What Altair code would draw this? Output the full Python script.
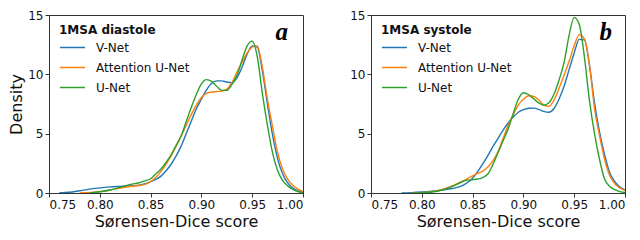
import altair as alt
import pandas as pd

x_grid = [0.76, 0.77, 0.78, 0.79, 0.80, 0.81, 0.82, 0.83, 0.84, 0.845, 0.85, 0.855,
          0.86, 0.865, 0.87, 0.875, 0.88, 0.885, 0.89, 0.895, 0.90, 0.905, 0.91, 0.915,
          0.92, 0.925, 0.93, 0.935, 0.94, 0.945, 0.95, 0.955, 0.96, 0.965, 0.97, 0.975,
          0.98, 0.985, 0.99, 0.995, 1.00]

models = ["V-Net", "Attention U-Net", "U-Net"]
colors = ["#1f77b4", "#ff7f0e", "#2ca02c"]

# 1MSA diastole
dia_vnet = [0.0, 0.06, 0.19, 0.33, 0.43, 0.52, 0.56, 0.60, 0.68, 0.78, 0.95, 1.15,
            1.4, 1.85, 2.4, 3.1, 3.95, 5.0, 6.05, 7.1, 7.9, 8.7, 9.25, 9.45,
            9.45, 9.35, 9.3, 9.7, 10.6, 11.7, 12.4, 12.3, 10.3, 7.5, 4.9, 2.9,
            1.6, 0.85, 0.42, 0.18, 0.07]
dia_att = [None, None, 0.0, 0.04, 0.10, 0.25, 0.42, 0.55, 0.65, 0.75, 0.95, 1.3,
           1.8, 2.4, 3.1, 3.9, 4.8, 5.7, 6.6, 7.4, 8.05, 8.4, 8.5, 8.55,
           8.6, 8.75, 9.3, 10.2, 11.0, 11.8, 12.3, 12.4, 10.6, 7.9, 5.6, 3.4,
           2.0, 1.15, 0.65, 0.32, 0.12]
dia_unet = [None, None, None, 0.0, 0.10, 0.25, 0.48, 0.72, 0.90, 1.05, 1.2, 1.6,
            2.0, 2.55, 3.2, 4.0, 4.8, 6.0, 7.2, 8.3, 9.2, 9.55, 9.4, 9.0,
            8.65, 8.65, 9.15, 9.9, 11.2, 12.4, 12.8, 11.5, 8.4, 5.7, 3.4, 1.9,
            1.05, 0.6, 0.3, 0.12, 0.04]

# 1MSA systole
sys_vnet = [None, None, 0.0, 0.03, 0.08, 0.15, 0.25, 0.38, 0.62, 0.88, 1.25, 1.8,
            2.45, 3.15, 3.9, 4.6, 5.3, 5.9, 6.4, 6.8, 7.02, 7.14, 7.15, 7.05,
            6.88, 6.8, 7.1, 7.9, 9.0, 10.4, 11.8, 12.95, 12.9, 10.8, 7.6, 5.1,
            3.2, 1.7, 0.95, 0.5, 0.25]
sys_att = [None, None, None, 0.0, 0.03, 0.12, 0.30, 0.60, 1.0, 1.22, 1.45, 1.65,
           1.85, 2.2, 2.7, 3.5, 4.6, 5.7, 6.6, 7.4, 7.9, 8.2, 8.15, 7.85,
           7.4, 7.3, 7.8, 8.8, 9.9, 11.1, 12.4, 13.35, 13.0, 10.8, 7.1, 4.8,
           2.8, 1.45, 0.78, 0.42, 0.22]
sys_unet = [None, None, None, 0.0, 0.02, 0.08, 0.25, 0.55, 0.95, 1.08, 1.12, 1.18,
            1.3, 1.6, 2.4, 3.4, 4.4, 5.4, 6.7, 7.9, 8.45, 8.3, 7.95, 7.6,
            7.4, 7.6, 8.3, 9.5, 11.0, 13.3, 14.8, 14.2, 11.5, 7.8, 5.0, 2.8,
            1.15, 0.55, 0.28, 0.12, 0.05]

x_ticks = [0.75, 0.80, 0.85, 0.90, 0.95, 1.00]
y_ticks = [0, 5, 10, 15]

panel_titles = ["1MSA diastole", "1MSA systole"]
panel_letters = ["a", "b"]
letter_x = [0.979, 0.981]
letter_y = [13.6, 13.6]


def to_long(series):
    rows = []
    for name, ys in zip(models, series):
        for xv, yv in zip(x_grid, ys):
            if yv is not None:
                rows.append({"x": xv, "density": yv, "model": name})
    return pd.DataFrame(rows)


def panel(series, title, letter, lx, ly, ytitle):
    df = to_long(series)
    yaxis = alt.Axis(values=y_ticks, grid=False, title=ytitle) if ytitle else alt.Axis(values=y_ticks, grid=False, title=None)
    lines = alt.Chart(df).mark_line(strokeWidth=1.4, interpolate="monotone", clip=True).encode(
        x=alt.X("x:Q", scale=alt.Scale(domain=[0.75, 1.0], nice=False, zero=False),
                axis=alt.Axis(values=x_ticks, format=".2f", grid=False, title="Sørensen-Dice score")),
        y=alt.Y("density:Q", scale=alt.Scale(domain=[0, 15], nice=False), axis=yaxis),
        color=alt.Color("model:N", scale=alt.Scale(domain=models, range=colors),
                        legend=alt.Legend(title=title, orient="none", legendX=10, legendY=10)),
    )
    txt = alt.Chart(pd.DataFrame({"x": [lx], "y": [ly], "t": [letter]})).mark_text(
        font="Liberation Serif", fontStyle="italic", fontWeight="bold", fontSize=25, color="#000"
    ).encode(x="x:Q", y="y:Q", text="t:N")
    return alt.layer(lines, txt).properties(width=254, height=178)


left = panel([dia_vnet, dia_att, dia_unet], panel_titles[0], panel_letters[0], letter_x[0], letter_y[0], "Density")
right = panel([sys_vnet, sys_att, sys_unet], panel_titles[1], panel_letters[1], letter_x[1], letter_y[1], None)

chart = alt.hconcat(left, right, spacing=68, bounds="flush").resolve_legend(color="independent").resolve_scale(color="independent").properties(
    padding={"left": 0, "top": 0, "right": 0, "bottom": 0}
).configure_view(stroke="#333", strokeWidth=1).configure_axis(
    labelFont="DejaVu Sans", labelFontSize=12, labelColor="#111", tickColor="#333", tickSize=4,
    labelPadding=2, domainColor="#333", titleFont="DejaVu Sans", titleFontSize=16,
    titleFontWeight="normal", titleColor="#111", titlePadding=3
).configure_legend(
    titleFont="DejaVu Sans", titleFontSize=12, titleFontWeight="bold", titleColor="#111",
    labelFont="DejaVu Sans", labelFontSize=12, labelColor="#111", symbolType="stroke",
    symbolStrokeWidth=1.5, symbolSize=625, labelOffset=10, rowPadding=-3, titlePadding=-3
)

chart.save("out.html", embed_options={"renderer": "svg", "actions": False})
